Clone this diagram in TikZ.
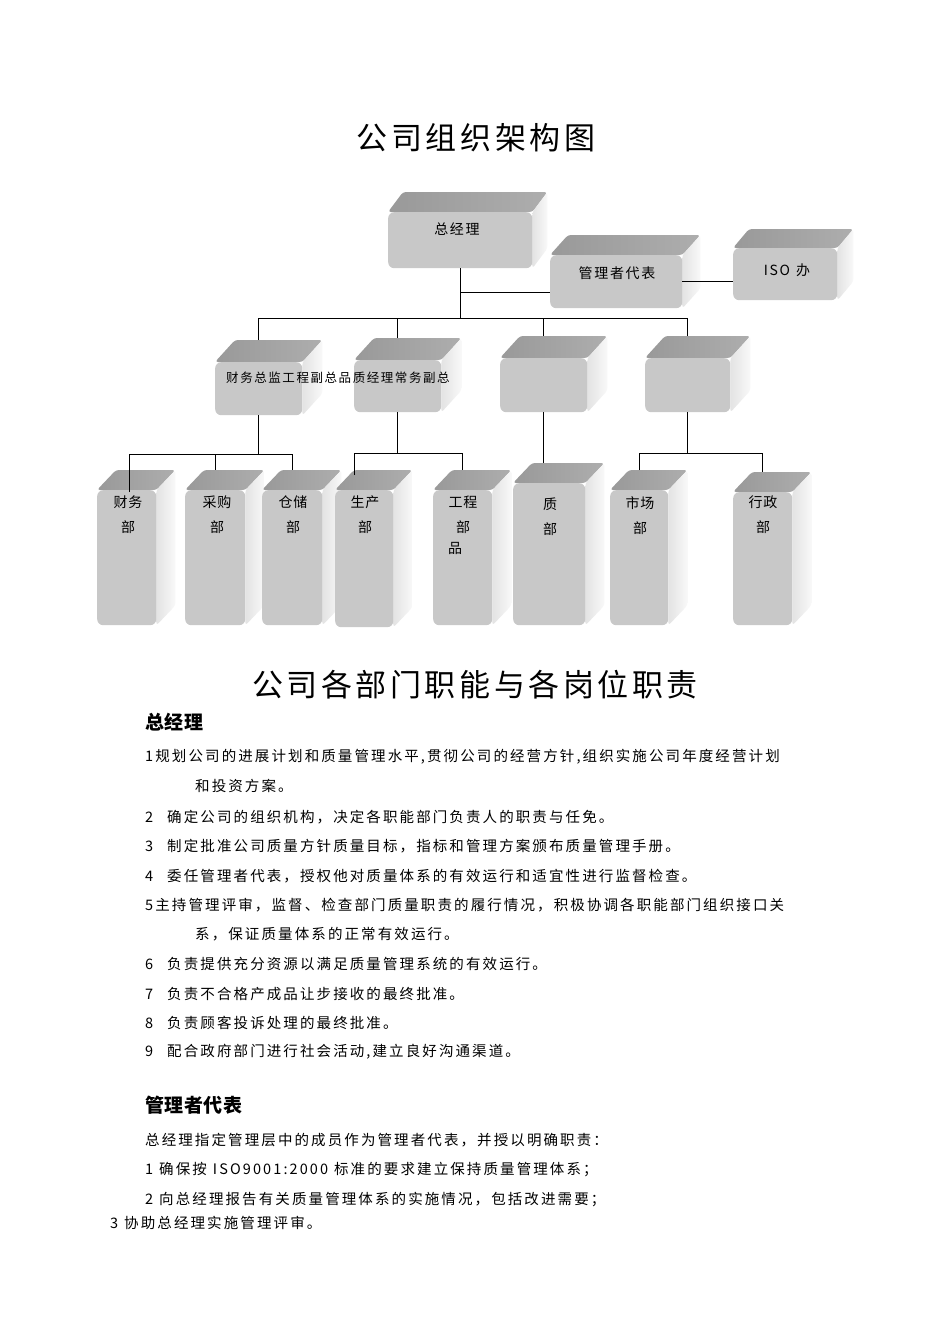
\documentclass[tikz,border=0pt]{standalone}
\usepackage{fontspec}
\setmainfont{Noto Sans CJK SC}
\usetikzlibrary{calc,positioning,backgrounds}
\newcommand\cjksize[3]{\fontsize{#1}{#2}\selectfont\addfontfeature{LetterSpace=#3}}
\tikzset{front/.style={fill=gray!43,rounded corners=6pt,inner sep=0pt,anchor=north west},
  topface/.style={left color=gray!80,right color=gray!64,rounded corners=3pt},
  sideface/.style={left color=gray!22,right color=gray!5,rounded corners=3pt},
  link/.style={line width=1.2pt}}
% 3d box: name, x, y, width, height, dx, dy
\newcommand\cube[7]{%
  \node[front,minimum width=#4,minimum height=#5] (#1) at (#2,#3) {};
  \coordinate (#1-t) at ($(#1.north)+(0,#7)$);
  \begin{scope}[on background layer]
    \shade[topface] (#1.north west) -- ++(#6,#7) -- ($(#1.north east)+(#6,#7)$) -- (#1.north east) -- cycle;
    \shade[sideface] (#1.north east) -- ++(#6,#7) -- ($(#1.south east)+(#6,#7)$) -- (#1.south east) -- cycle;
  \end{scope}}
\begin{document}
\begin{tikzpicture}[x=1pt,y=-1pt,
  title/.style={inner sep=0pt,font=\cjksize{31}{36}{11.5}},
  boxtxt/.style={inner sep=0pt,font=\cjksize{14}{25}{12},align=center},
  dept/.style={boxtxt,anchor=north,font=\cjksize{14}{25}{7}},
  head/.style={anchor=west,inner sep=0pt,font=\bfseries\cjksize{19}{22}{3}},
  txt/.style={anchor=west,inner sep=0pt,font=\cjksize{14.5}{18}{14.5}}]
\begin{scope}[on background layer]
  \fill[white] (0,0) rectangle (950,1344);
\end{scope}
\useasboundingbox (0,0) rectangle (950,1344);
\node[title] (t-org) at (476,138) {公司组织架构图};

% top level
\cube{zjl}{388}{212}{144}{56}{15}{-20}
\cube{gldb}{550}{255}{132}{53}{18}{-20}
\cube{iso}{733}{248}{104}{52}{16}{-19}
\node[boxtxt] (zjl-l) at (457,229) {总经理};
\node[boxtxt] (gldb-l) at (617,273) {管理者代表};
\node[boxtxt] (iso-l) at (787,270) {ISO\hspace{6pt}办};

% second level
\cube{lva}{215}{362}{87}{53}{20}{-22}
\cube{lvb}{354}{360}{87}{52}{20}{-22}
\cube{lvc}{500}{358}{87}{54}{20}{-22}
\cube{lvd}{645}{358}{85}{54}{20}{-22}
\node[boxtxt,anchor=west,font=\cjksize{12.5}{15}{12.5}] (lv-l) at (226,378) {财务总监工程副总品质经理常务副总};

% departments
\cube{cwb}{97}{490}{59}{135}{19}{-20}
\cube{cgb}{185}{490}{60}{135}{19}{-20}
\cube{ccb}{262}{490}{60}{135}{19}{-20}
\cube{scb}{335}{490}{58}{137}{19}{-20}
\cube{gcb}{433}{490}{59}{135}{19}{-20}
\cube{zb}{513}{483}{72}{142}{19}{-20}
\cube{sc}{610}{490}{58}{135}{19}{-20}
\cube{xzb}{733}{492}{59}{133}{19}{-20}
\node[dept] (cwb-l) at (128,496) {财务\\部};
\node[dept] (cgb-l) at (217,496) {采购\\部};
\node[dept] (ccb-l) at (293,496) {仓储\\部};
\node[dept] (scb-l) at (365,496) {生产\\部};
\node[dept] (gcb-l) at (463,496) {工程\\部};
\node[boxtxt] (gcb-x) at (455,548) {品};
\node[dept] (zb-l) at (550,498) {质\\部};
\node[dept] (sc-l) at (640,496) {市场\\部};
\node[dept] (xzb-l) at (763,496) {行政\\部};

% connectors
\coordinate (br) at ($(zjl.south)+(0,24)$);
\coordinate (bus1) at ($(zjl.south)+(0,50)$);
\draw[link] (zjl.south) -- (bus1);
\draw[link] (br) -- (br -| gldb.west);
\draw[link] (gldb.east) -- (gldb.east -| iso.west);
\draw[link] (lva-t) |- (bus1) -| (lvd-t);
\draw[link] (bus1 -| lvb-t) -- (lvb-t);
\draw[link] (bus1 -| lvc-t) -- (lvc-t);

\coordinate (g1) at ($(lva.south)+(0,39)$);
\coordinate (g2) at ($(lvb.south)+(0,41)$);
\coordinate (g3) at ($(lvd.south)+(0,41)$);
\draw[link] (lva.south) -- (g1);
\draw[link] ($(cwb.north)+(3,2)$) |- (g1) -| (ccb-t);
\draw[link] (g1 -| cgb-t) -- (cgb-t);
\draw[link] (lvb.south) -- (g2);
\draw[link] ($(scb-t)+(-10,5)$) |- (g2) -| (gcb-t);
\draw[link] (lvc.south) -- (lvc.south |- zb-t);
\draw[link] (lvd.south) -- (g3);
\draw[link] (sc-t) |- (g3) -| (xzb-t);

% duties
\node[title] (t-duty) at (475,685) {公司各部门职能与各岗位职责};
\node[head] (h-zjl) at (145,722) {总经理};
\node[txt] (d1) at (145,757) {1规划公司的进展计划和质量管理水平,贯彻公司的经营方针,组织实施公司年度经营计划};
\node[txt] (d1b) at (195,786) {和投资方案。};
\node[txt] (d2) at (145,817) {2\hspace{14pt}确定公司的组织机构，决定各职能部门负责人的职责与任免。};
\node[txt] (d3) at (145,846) {3\hspace{14pt}制定批准公司质量方针质量目标，指标和管理方案颁布质量管理手册。};
\node[txt] (d4) at (145,876) {4\hspace{14pt}委任管理者代表，授权他对质量体系的有效运行和适宜性进行监督检查。};
\node[txt] (d5) at (145,905) {5主持管理评审，监督、检查部门质量职责的履行情况，积极协调各职能部门组织接口关};
\node[txt] (d5b) at (195,934) {系，保证质量体系的正常有效运行。};
\node[txt] (d6) at (145,964) {6\hspace{14pt}负责提供充分资源以满足质量管理系统的有效运行。};
\node[txt] (d7) at (145,994) {7\hspace{14pt}负责不合格产成品让步接收的最终批准。};
\node[txt] (d8) at (145,1023) {8\hspace{14pt}负责顾客投诉处理的最终批准。};
\node[txt] (d9) at (145,1052) {9\hspace{14pt}配合政府部门进行社会活动,建立良好沟通渠道。};

\node[head] (h-gldb) at (145,1105) {管理者代表};
\node[txt] (m0) at (145,1140) {总经理指定管理层中的成员作为管理者代表，并授以明确职责：};
\node[txt] (m1) at (145,1170) {1\hspace{6pt}确保按\hspace{6pt}ISO9001:2000\hspace{6pt}标准的要求建立保持质量管理体系；};
\node[txt] (m2) at (145,1200) {2\hspace{6pt}向总经理报告有关质量管理体系的实施情况，包括改进需要；};
\node[txt] (m3) at (110,1223) {3\hspace{6pt}协助总经理实施管理评审。};
\end{tikzpicture}
\end{document}
